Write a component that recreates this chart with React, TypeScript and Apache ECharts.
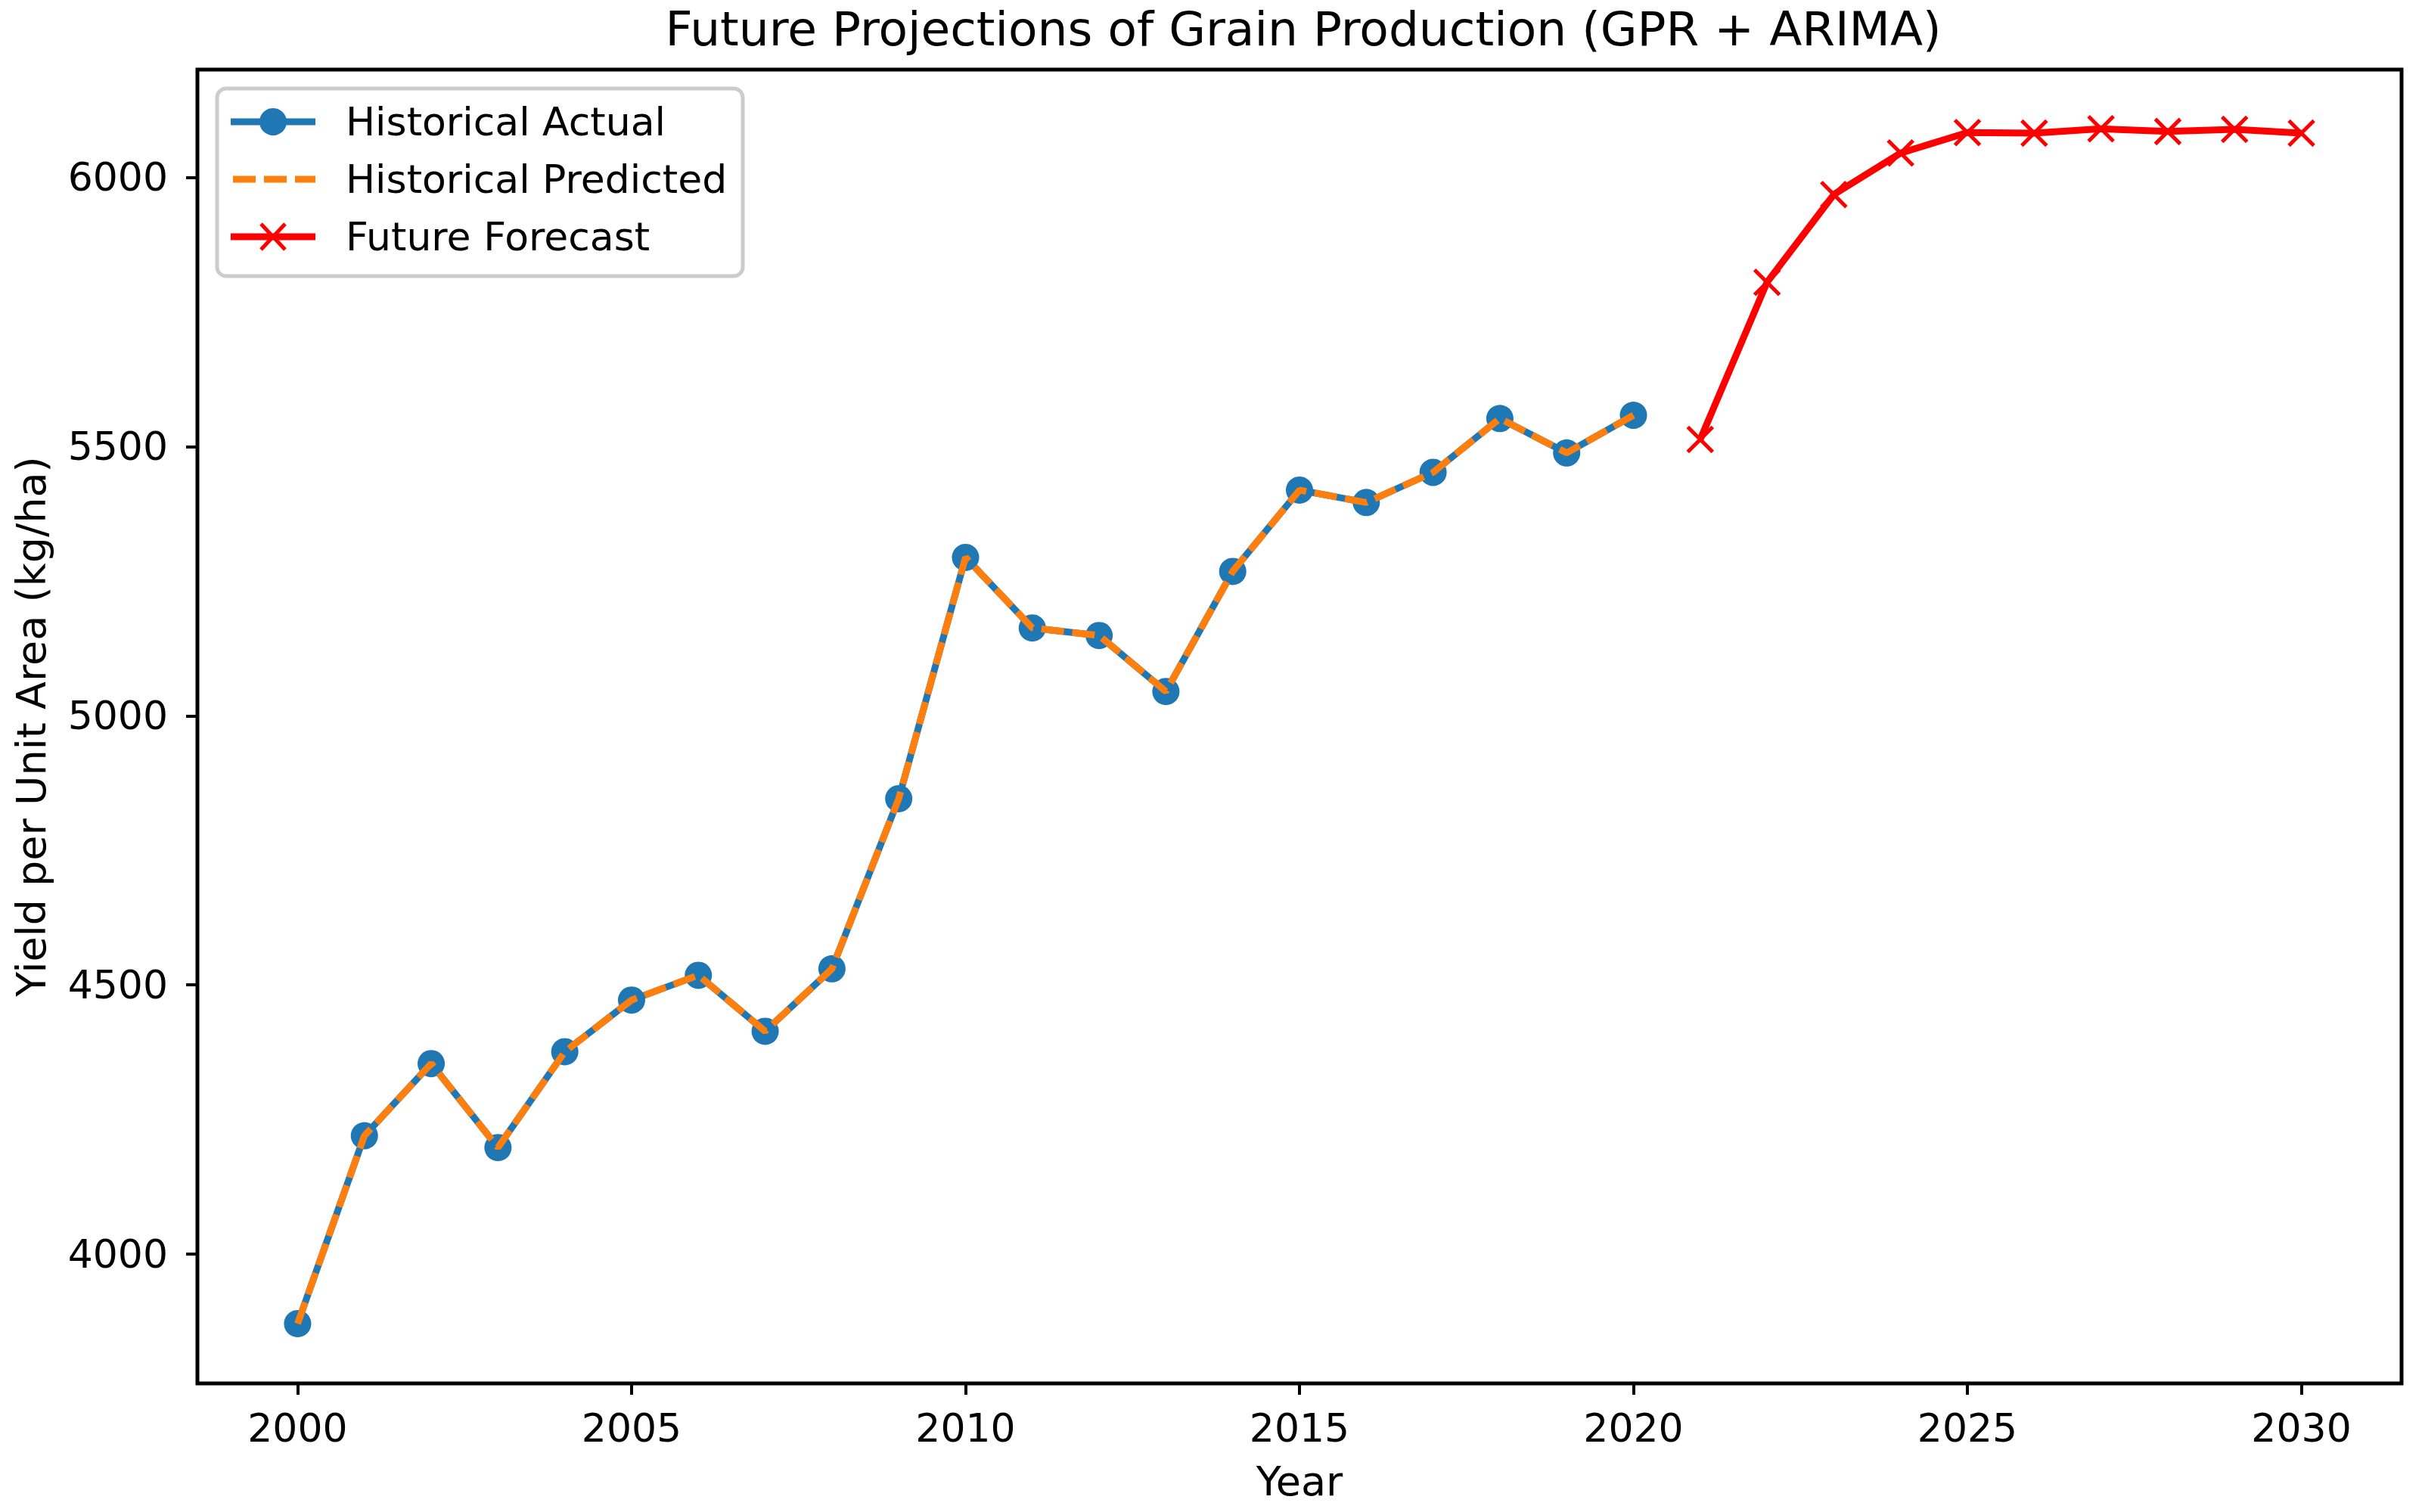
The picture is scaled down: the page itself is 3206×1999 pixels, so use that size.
import React, { useEffect, useRef } from "react";
import * as echarts from "echarts";

const histYears = [2000, 2001, 2002, 2003, 2004, 2005, 2006, 2007, 2008, 2009, 2010, 2011, 2012, 2013, 2014, 2015, 2016, 2017, 2018, 2019, 2020];
const histActual = [3871, 4220, 4354, 4198, 4376, 4472, 4518, 4414, 4530, 4846, 5294, 5163, 5149, 5045, 5268, 5419, 5396, 5452, 5552, 5488, 5558];
const histPredicted = [3871, 4220, 4354, 4198, 4376, 4472, 4518, 4414, 4530, 4846, 5294, 5163, 5149, 5045, 5268, 5419, 5396, 5452, 5552, 5488, 5558];
const futureYears = [2021, 2022, 2023, 2024, 2025, 2026, 2027, 2028, 2029, 2030];
const futureForecast = [5513, 5805, 5968, 6045, 6083, 6082, 6090, 6085, 6089, 6082];
const xTicks = [2000, 2005, 2010, 2015, 2020, 2025, 2030];
const yTicks = [4000, 4500, 5000, 5500, 6000];
const legendLabels = ["Historical Actual", "Historical Predicted", "Future Forecast"];

const FONT = "DejaVu Sans";
const BLUE = "#1f77b4";
const ORANGE = "#ff7f0e";
const RED = "#ff0000";
const XPATH = "path://M0,0L10,10M10,0L0,10";

export default function App() {
  const ref = useRef<HTMLDivElement>(null);
  useEffect(() => {
    document.body.style.margin = "0";
    if (!ref.current) return;
    const chart = echarts.init(ref.current, undefined, { renderer: "svg" });
    const GL = 261, GT = 92, GW = 2914, GH = 1737;
    const rowY = [161, 237, 313];
    const option: any = {
      animation: false,
      backgroundColor: "#ffffff",
      title: {
        text: "Future Projections of Grain Production (GPR + ARIMA)",
        left: GL + GW / 2,
        textAlign: "center",
        top: 2,
        textStyle: { fontFamily: FONT, fontSize: 63, fontWeight: "normal", color: "#000" },
      },
      grid: { left: GL, top: GT, width: GW, height: GH, show: true, borderColor: "#000", borderWidth: 5, containLabel: false },
      xAxis: {
        type: "value",
        min: 1998.5,
        max: 2031.5,
        name: "Year",
        nameLocation: "middle",
        nameGap: 102,
        nameTextStyle: { fontFamily: FONT, fontSize: 54, color: "#000" },
        axisLine: { show: false },
        splitLine: { show: false },
        axisTick: { show: true, length: 15, lineStyle: { color: "#000", width: 4 }, customValues: xTicks },
        axisLabel: { fontFamily: FONT, fontSize: 52, color: "#000", margin: 33, customValues: xTicks, formatter: (v: number) => String(v) },
      },
      yAxis: {
        type: "value",
        min: 3760,
        max: 6200,
        name: "Yield per Unit Area (kg/ha)",
        nameLocation: "middle",
        nameGap: 193,
        nameRotate: 90,
        nameTextStyle: { fontFamily: FONT, fontSize: 54, color: "#000" },
        axisLine: { show: false },
        splitLine: { show: false },
        axisTick: { show: true, length: 15, lineStyle: { color: "#000", width: 4 }, customValues: yTicks },
        axisLabel: { fontFamily: FONT, fontSize: 52, color: "#000", margin: 39, customValues: yTicks, formatter: (v: number) => String(v) },
      },
      series: [
        {
          name: legendLabels[0],
          type: "line",
          z: 2,
          data: histYears.map((y, i) => [y, histActual[i]]),
          symbol: "circle",
          symbolSize: 36,
          itemStyle: { color: BLUE },
          lineStyle: { color: BLUE, width: 9 },
        },
        {
          name: legendLabels[1],
          type: "line",
          z: 3,
          data: histYears.map((y, i) => [y, histPredicted[i]]),
          symbol: "none",
          itemStyle: { color: ORANGE },
          lineStyle: { color: ORANGE, width: 9, type: [30, 11] },
        },
        {
          name: legendLabels[2],
          type: "line",
          z: 4,
          data: futureYears.map((y, i) => [y, futureForecast[i]]),
          symbol: XPATH,
          symbolSize: 33,
          itemStyle: { color: RED, borderColor: RED, borderWidth: 5 },
          lineStyle: { color: RED, width: 9 },
        },
      ],
      graphic: [
        {
          type: "group",
          z: 100,
          children: [
            { type: "rect", shape: { x: 287, y: 117, width: 695, height: 248, r: 12 }, style: { fill: "rgba(255,255,255,0.8)", stroke: "#cccccc", lineWidth: 5 } },
            { type: "line", shape: { x1: 305, y1: rowY[0], x2: 417, y2: rowY[0] }, style: { stroke: BLUE, lineWidth: 9 } },
            { type: "circle", shape: { cx: 361, cy: rowY[0], r: 18 }, style: { fill: BLUE } },
            { type: "line", shape: { x1: 308, y1: rowY[1], x2: 417, y2: rowY[1] }, style: { stroke: ORANGE, lineWidth: 9, lineDash: [30, 11] } },
            { type: "line", shape: { x1: 305, y1: rowY[2], x2: 417, y2: rowY[2] }, style: { stroke: RED, lineWidth: 9 } },
            { type: "line", shape: { x1: 345, y1: rowY[2] - 17, x2: 377, y2: rowY[2] + 17 }, style: { stroke: RED, lineWidth: 5 } },
            { type: "line", shape: { x1: 377, y1: rowY[2] - 17, x2: 345, y2: rowY[2] + 17 }, style: { stroke: RED, lineWidth: 5 } },
            ...legendLabels.map((t, i) => ({
              type: "text",
              x: 457,
              y: rowY[i],
              style: { text: t, fontFamily: FONT, fontSize: 52, fill: "#000", textAlign: "left", textVerticalAlign: "middle" },
            })),
          ],
        },
      ],
    };
    chart.setOption(option);
    return () => chart.dispose();
  }, []);
  return <div ref={ref} style={{ width: 3206, height: 1999 }} />;
}
